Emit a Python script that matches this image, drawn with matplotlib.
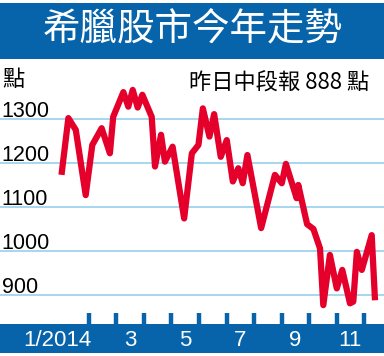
import matplotlib.pyplot as plt
from matplotlib.patches import Rectangle

# months elapsed since 1 Jan 2014, and Athens index level
month_pos = [0.0, 0.25, 0.52, 0.88, 1.12, 1.46, 1.76, 1.88, 2.25, 2.43, 2.59, 2.77,
             2.94, 3.28, 3.40, 3.62, 3.76, 4.04, 4.46, 4.74, 4.98, 5.14, 5.38, 5.55,
             5.79, 6.01, 6.23, 6.43, 6.59, 6.76, 7.26, 7.76, 8.01, 8.16, 8.55, 8.61,
             8.93, 9.16, 9.40, 9.52, 9.76, 10.01, 10.21, 10.49, 10.61, 10.74, 10.92,
             11.28, 11.40]
index_values = [1173, 1302, 1275, 1127, 1241, 1279, 1222, 1305, 1361, 1328, 1366, 1326,
                1355, 1305, 1192, 1264, 1203, 1237, 1074, 1222, 1241, 1324, 1260, 1311,
                1214, 1252, 1158, 1188, 1154, 1218, 1052, 1173, 1154, 1198, 1120, 1150,
                1061, 1050, 1006, 877, 991, 915, 957, 881, 885, 998, 957, 1036, 888]

grid_levels = [900, 1000, 1100, 1200, 1300]
month_ticks = [1, 2, 3, 4, 5, 6, 7, 8, 9, 10, 11]
month_labels = ['1/2014', '3', '5', '7', '9', '11']
label_months = [1, 3, 5, 7, 9, 11]

title = '希臘股市今年走勢'
unit = '點'
note = '昨日中段報 888 點'

blue = '#0764ab'
red = '#e4002b'
cjk = ['Noto Sans CJK TC', 'DejaVu Sans']

W, H = 384, 356
fig = plt.figure(figsize=(W / 100, H / 100), dpi=100)
fig.patch.set_facecolor('white')

# plot area between title band and month band
ax = fig.add_axes([0, 32 / H, 1, 264 / H])
ax.set_xlim(-2.236, 11.727)
ax.set_ylim(834.1, 1434)
ax.axis('off')

for lv in grid_levels:
    ax.axhline(lv, color='#a6d6f0', lw=1.4, zorder=1)
    ax.text(-2.18, lv + 5, str(lv), ha='left', va='baseline',
            fontsize=15.5, family='Liberation Sans', color='black', zorder=3)

ax.plot(month_pos, index_values, color=red, lw=4.5, solid_joinstyle='round',
        solid_capstyle='butt', zorder=2)

# month ticks sitting on the bottom band
ax.vlines(month_ticks, 0, 11 / 264, transform=ax.get_xaxis_transform(),
          color=blue, lw=3.2, zorder=2)

# bands
fig.patches.append(Rectangle((0, 3 / H), 1, 29 / H, transform=fig.transFigure,
                             facecolor=blue, edgecolor='none', zorder=0))
fig.patches.append(Rectangle((0, (H - 59) / H), 1, 56 / H, transform=fig.transFigure,
                             facecolor=blue, edgecolor='none', zorder=0))

fig.text(0.501, 1 - 30 / H, title, ha='center', va='center', color='white',
         fontsize=27, family=cjk, fontweight='light')
fig.text(2 / W, 1 - 79 / H, unit, ha='left', va='center', color='black',
         fontsize=16, family=cjk)
fig.text(369 / W, 1 - 83 / H, note, ha='right', va='center', color='black',
         fontsize=16, family=cjk)

for m, lab in zip(label_months, month_labels):
    x = m - 0.5
    if m == 1:
        x = -0.16
    xf = (61.5 + x * 27.5) / W
    fig.text(xf, 1 - 340 / H, lab, ha='center', va='center', color='white',
             fontsize=16, family='Liberation Sans')

fig.savefig('out.png', dpi=100)
